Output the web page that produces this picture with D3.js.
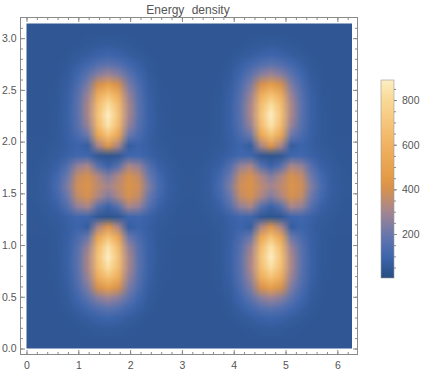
<!DOCTYPE html>
<html>
<head>
<meta charset="utf-8">
<script src="https://cdn.jsdelivr.net/npm/d3@7"></script>
<style>
  body { margin: 0; background: #fff; }
  text { font-family: "Liberation Sans", Arial, sans-serif; fill: #555; }
</style>
</head>
<body>
<svg id="chart" width="427" height="375"></svg>
<script>
// energy density sampled on a 33 x 33 grid read off the picture
// rows: y = 0 (bottom) .. pi (top), columns: x = 0 .. 2pi
var energy = [
  [42,42,42,42,42,42,42,42,42, 42,42,42,42,42,42,42,42, 42,42,42,42,42,42,42,42, 42,42,42,42,42,42,42,42],
  [42,42,42,42,42,43,44,46,46, 46,44,43,42,42,42,42,42, 42,42,42,42,43,44,46,46, 46,44,43,42,42,42,42,42],
  [42,42,42,42,43,46,50,56,60, 56,50,46,43,42,42,42,42, 42,42,42,43,46,50,56,60, 56,50,46,43,42,42,42,42],
  [42,42,42,43,46,55,68,85,95, 85,68,55,46,43,42,42,42, 42,42,43,46,55,68,85,95, 85,68,55,46,43,42,42,42],
  [42,42,42,44,52,75,110,150,170, 150,110,75,52,44,42,42,42, 42,42,44,52,75,110,150,170, 150,110,75,52,44,42,42,42],
  [42,42,43,46,60,105,170,250,290, 250,170,105,60,46,43,42,42, 42,43,46,60,105,170,250,290, 250,170,105,60,46,43,42,42],
  [42,42,43,48,70,135,230,400,480, 400,230,135,70,48,43,42,42, 42,43,48,70,135,230,400,480, 400,230,135,70,48,43,42,42],
  [42,42,44,50,78,155,280,560,670, 560,280,155,78,50,44,42,42, 42,44,50,78,155,280,560,670, 560,280,155,78,50,44,42,42],
  [42,42,44,52,82,165,310,650,820, 650,310,165,82,52,44,42,42, 42,44,52,82,165,310,650,820, 650,310,165,82,52,44,42,42],
  [42,43,45,53,84,165,310,680,880, 680,310,165,84,53,45,43,42, 43,45,53,84,165,310,680,880, 680,310,165,84,53,45,43,42],
  [43,43,46,53,82,155,280,640,840, 640,280,155,82,53,46,43,43, 43,46,53,82,155,280,640,840, 640,280,155,82,53,46,43,43],
  [44,44,47,53,78,130,200,520,680, 520,200,130,78,53,47,44,44, 44,47,53,78,130,200,520,680, 520,200,130,78,53,47,44,44],
  [45,45,49,55,72,95,70,310,430, 310,70,95,72,55,49,45,45, 45,49,55,72,95,70,310,430, 310,70,95,72,55,49,45,45],
  [46,47,53,62,85,110,105,45,35, 45,105,110,85,62,53,47,46, 47,53,62,85,110,105,45,35, 45,105,110,85,62,53,47,46],
  [47,50,58,82,150,270,310,160,90, 160,310,270,150,82,58,50,47, 50,58,82,150,270,310,160,90, 160,310,270,150,82,58,50,47],
  [48,52,66,110,200,360,400,320,240, 320,400,360,200,110,66,52,48, 52,66,110,200,360,400,320,240, 320,400,360,200,110,66,52,48],
  [48,53,70,125,235,385,415,350,300, 350,415,385,235,125,70,53,48, 53,70,125,235,385,415,350,300, 350,415,385,235,125,70,53,48],
  [48,52,66,110,200,360,400,320,240, 320,400,360,200,110,66,52,48, 52,66,110,200,360,400,320,240, 320,400,360,200,110,66,52,48],
  [47,50,58,82,150,270,310,160,90, 160,310,270,150,82,58,50,47, 50,58,82,150,270,310,160,90, 160,310,270,150,82,58,50,47],
  [46,47,53,62,85,110,105,45,35, 45,105,110,85,62,53,47,46, 47,53,62,85,110,105,45,35, 45,105,110,85,62,53,47,46],
  [45,45,49,55,72,95,70,310,430, 310,70,95,72,55,49,45,45, 45,49,55,72,95,70,310,430, 310,70,95,72,55,49,45,45],
  [44,44,47,53,78,130,200,520,680, 520,200,130,78,53,47,44,44, 44,47,53,78,130,200,520,680, 520,200,130,78,53,47,44,44],
  [43,43,46,53,82,155,280,640,840, 640,280,155,82,53,46,43,43, 43,46,53,82,155,280,640,840, 640,280,155,82,53,46,43,43],
  [42,43,45,53,84,165,310,680,880, 680,310,165,84,53,45,43,42, 43,45,53,84,165,310,680,880, 680,310,165,84,53,45,43,42],
  [42,42,44,52,82,165,310,650,820, 650,310,165,82,52,44,42,42, 42,44,52,82,165,310,650,820, 650,310,165,82,52,44,42,42],
  [42,42,44,50,78,155,280,560,670, 560,280,155,78,50,44,42,42, 42,44,50,78,155,280,560,670, 560,280,155,78,50,44,42,42],
  [42,42,43,48,70,135,230,400,480, 400,230,135,70,48,43,42,42, 42,43,48,70,135,230,400,480, 400,230,135,70,48,43,42,42],
  [42,42,43,46,60,105,170,250,290, 250,170,105,60,46,43,42,42, 42,43,46,60,105,170,250,290, 250,170,105,60,46,43,42,42],
  [42,42,42,44,52,75,110,150,170, 150,110,75,52,44,42,42,42, 42,42,44,52,75,110,150,170, 150,110,75,52,44,42,42,42],
  [42,42,42,43,46,55,68,85,95, 85,68,55,46,43,42,42,42, 42,42,43,46,55,68,85,95, 85,68,55,46,43,42,42,42],
  [42,42,42,42,43,46,50,56,60, 56,50,46,43,42,42,42,42, 42,42,42,43,46,50,56,60, 56,50,46,43,42,42,42,42],
  [42,42,42,42,42,43,44,46,46, 46,44,43,42,42,42,42,42, 42,42,42,42,43,44,46,46, 46,44,43,42,42,42,42,42],
  [42,42,42,42,42,42,42,42,42, 42,42,42,42,42,42,42,42, 42,42,42,42,42,42,42,42, 42,42,42,42,42,42,42,42]
];

var xDomain = [0, 2 * Math.PI];
var yDomain = [0, Math.PI];
var xTicks = [0, 1, 2, 3, 4, 5, 6];
var yTicks = [0, 0.5, 1, 1.5, 2, 2.5, 3];
var barTicks = [200, 400, 600, 800];
var barDomain = [3, 890];
var colorStops = [0, 100, 200, 300, 400, 450, 600, 800, 890];
var colorList = ["#274c80", "#3d66ae", "#6a78ad", "#a48591", "#d6914f", "#e39a45", "#f1b262", "#f9d995", "#fdeec4"];
var title = "Energy density";

var svg = d3.select("#chart");

var x = d3.scaleLinear().domain(xDomain).range([26.5, 352]);
var y = d3.scaleLinear().domain(yDomain).range([348.5, 23.5]);
var color = d3.scaleLinear().domain(colorStops).range(colorList).clamp(true);

// paint the grid into a tiny canvas, the browser smooths it when scaled up
var nx = energy[0].length, ny = energy.length;
var canvas = document.createElement("canvas");
canvas.width = nx;
canvas.height = ny;
var ctx = canvas.getContext("2d");
var img = ctx.createImageData(nx, ny);
for (var r = 0; r < ny; r++) {
  var row = energy[ny - 1 - r];
  for (var c = 0; c < nx; c++) {
    var col = d3.rgb(color(row[c]));
    var k = (r * nx + c) * 4;
    img.data[k] = col.r;
    img.data[k + 1] = col.g;
    img.data[k + 2] = col.b;
    img.data[k + 3] = 255;
  }
}
ctx.putImageData(img, 0, 0);

var dx = (xDomain[1] - xDomain[0]) / (nx - 1);
var dy = (yDomain[1] - yDomain[0]) / (ny - 1);

svg.append("clipPath").attr("id", "plotclip")
  .append("rect")
  .attr("x", x(xDomain[0]))
  .attr("y", y(yDomain[1]))
  .attr("width", x(xDomain[1]) - x(xDomain[0]))
  .attr("height", y(yDomain[0]) - y(yDomain[1]));

svg.append("image")
  .attr("clip-path", "url(#plotclip)")
  .attr("preserveAspectRatio", "none")
  .attr("href", canvas.toDataURL())
  .attr("x", x(xDomain[0] - dx / 2))
  .attr("y", y(yDomain[1] + dy / 2))
  .attr("width", x(xDomain[1] + dx / 2) - x(xDomain[0] - dx / 2))
  .attr("height", y(yDomain[0] - dy / 2) - y(yDomain[1] + dy / 2));

// frame
var frame = {left: 20.5, right: 357.5, top: 17.5, bottom: 354.5};
var frameColor = "#8a8a8a";

svg.append("rect")
  .attr("x", frame.left).attr("y", frame.top)
  .attr("width", frame.right - frame.left)
  .attr("height", frame.bottom - frame.top)
  .attr("fill", "none")
  .attr("stroke", frameColor);

var xMinor = d3.range(0, 6.3, 0.2);
var yMinor = d3.range(0, 3.15, 0.1);

function ticks(g, axis) {
  g.call(axis);
  g.select(".domain").remove();
  g.selectAll("line").attr("stroke", frameColor);
  g.selectAll("text").style("font-size", "10.5px").attr("fill", "#555");
}

svg.append("g").attr("transform", "translate(0," + frame.bottom + ")")
  .call(ticks, d3.axisBottom(x).tickValues(xMinor).tickSize(-2.5).tickFormat(""));
svg.append("g").attr("transform", "translate(0," + frame.bottom + ")")
  .call(ticks, d3.axisBottom(x).tickValues(xTicks).tickSize(-4.5).tickPadding(7).tickFormat(d3.format("d")));
svg.append("g").attr("transform", "translate(0," + frame.top + ")")
  .call(ticks, d3.axisTop(x).tickValues(xMinor).tickSize(-2.5).tickFormat(""));
svg.append("g").attr("transform", "translate(0," + frame.top + ")")
  .call(ticks, d3.axisTop(x).tickValues(xTicks).tickSize(-4.5).tickFormat(""));

svg.append("g").attr("transform", "translate(" + frame.left + ",0)")
  .call(ticks, d3.axisLeft(y).tickValues(yMinor).tickSize(-2.5).tickFormat(""));
svg.append("g").attr("transform", "translate(" + frame.left + ",0)")
  .call(ticks, d3.axisLeft(y).tickValues(yTicks).tickSize(-4.5).tickPadding(4).tickFormat(d3.format(".1f")));
svg.append("g").attr("transform", "translate(" + frame.right + ",0)")
  .call(ticks, d3.axisRight(y).tickValues(yMinor).tickSize(-2.5).tickFormat(""));
svg.append("g").attr("transform", "translate(" + frame.right + ",0)")
  .call(ticks, d3.axisRight(y).tickValues(yTicks).tickSize(-4.5).tickFormat(""));

// title
svg.append("text")
  .attr("x", 188).attr("y", 13.5)
  .attr("text-anchor", "middle")
  .style("font-size", "12px")
  .style("word-spacing", "4px")
  .text(title);

// colour bar
var bar = {x: 381, y: 80, w: 13, h: 198};
var c = d3.scaleLinear().domain(barDomain).range([bar.y + bar.h, bar.y]);

var grad = svg.append("defs").append("linearGradient")
  .attr("id", "bargrad")
  .attr("x1", 0).attr("y1", 1).attr("x2", 0).attr("y2", 0);
d3.range(0, 1.0001, 0.05).forEach(function (t) {
  var v = barDomain[0] + t * (barDomain[1] - barDomain[0]);
  grad.append("stop").attr("offset", t).attr("stop-color", color(v));
});

svg.append("rect")
  .attr("x", bar.x).attr("y", bar.y)
  .attr("width", bar.w).attr("height", bar.h)
  .attr("fill", "url(#bargrad)")
  .attr("stroke", "#9a9a9a")
  .attr("stroke-width", 0.6);

var barMinor = d3.range(50, 890, 50);
svg.append("g").attr("transform", "translate(" + (bar.x + bar.w) + ",0)")
  .call(ticks, d3.axisRight(c).tickValues(barMinor).tickSize(2).tickFormat(""));
svg.append("g").attr("transform", "translate(" + (bar.x + bar.w) + ",0)")
  .call(ticks, d3.axisRight(c).tickValues(barTicks).tickSize(3).tickPadding(5).tickFormat(d3.format("d")));
</script>
</body>
</html>
